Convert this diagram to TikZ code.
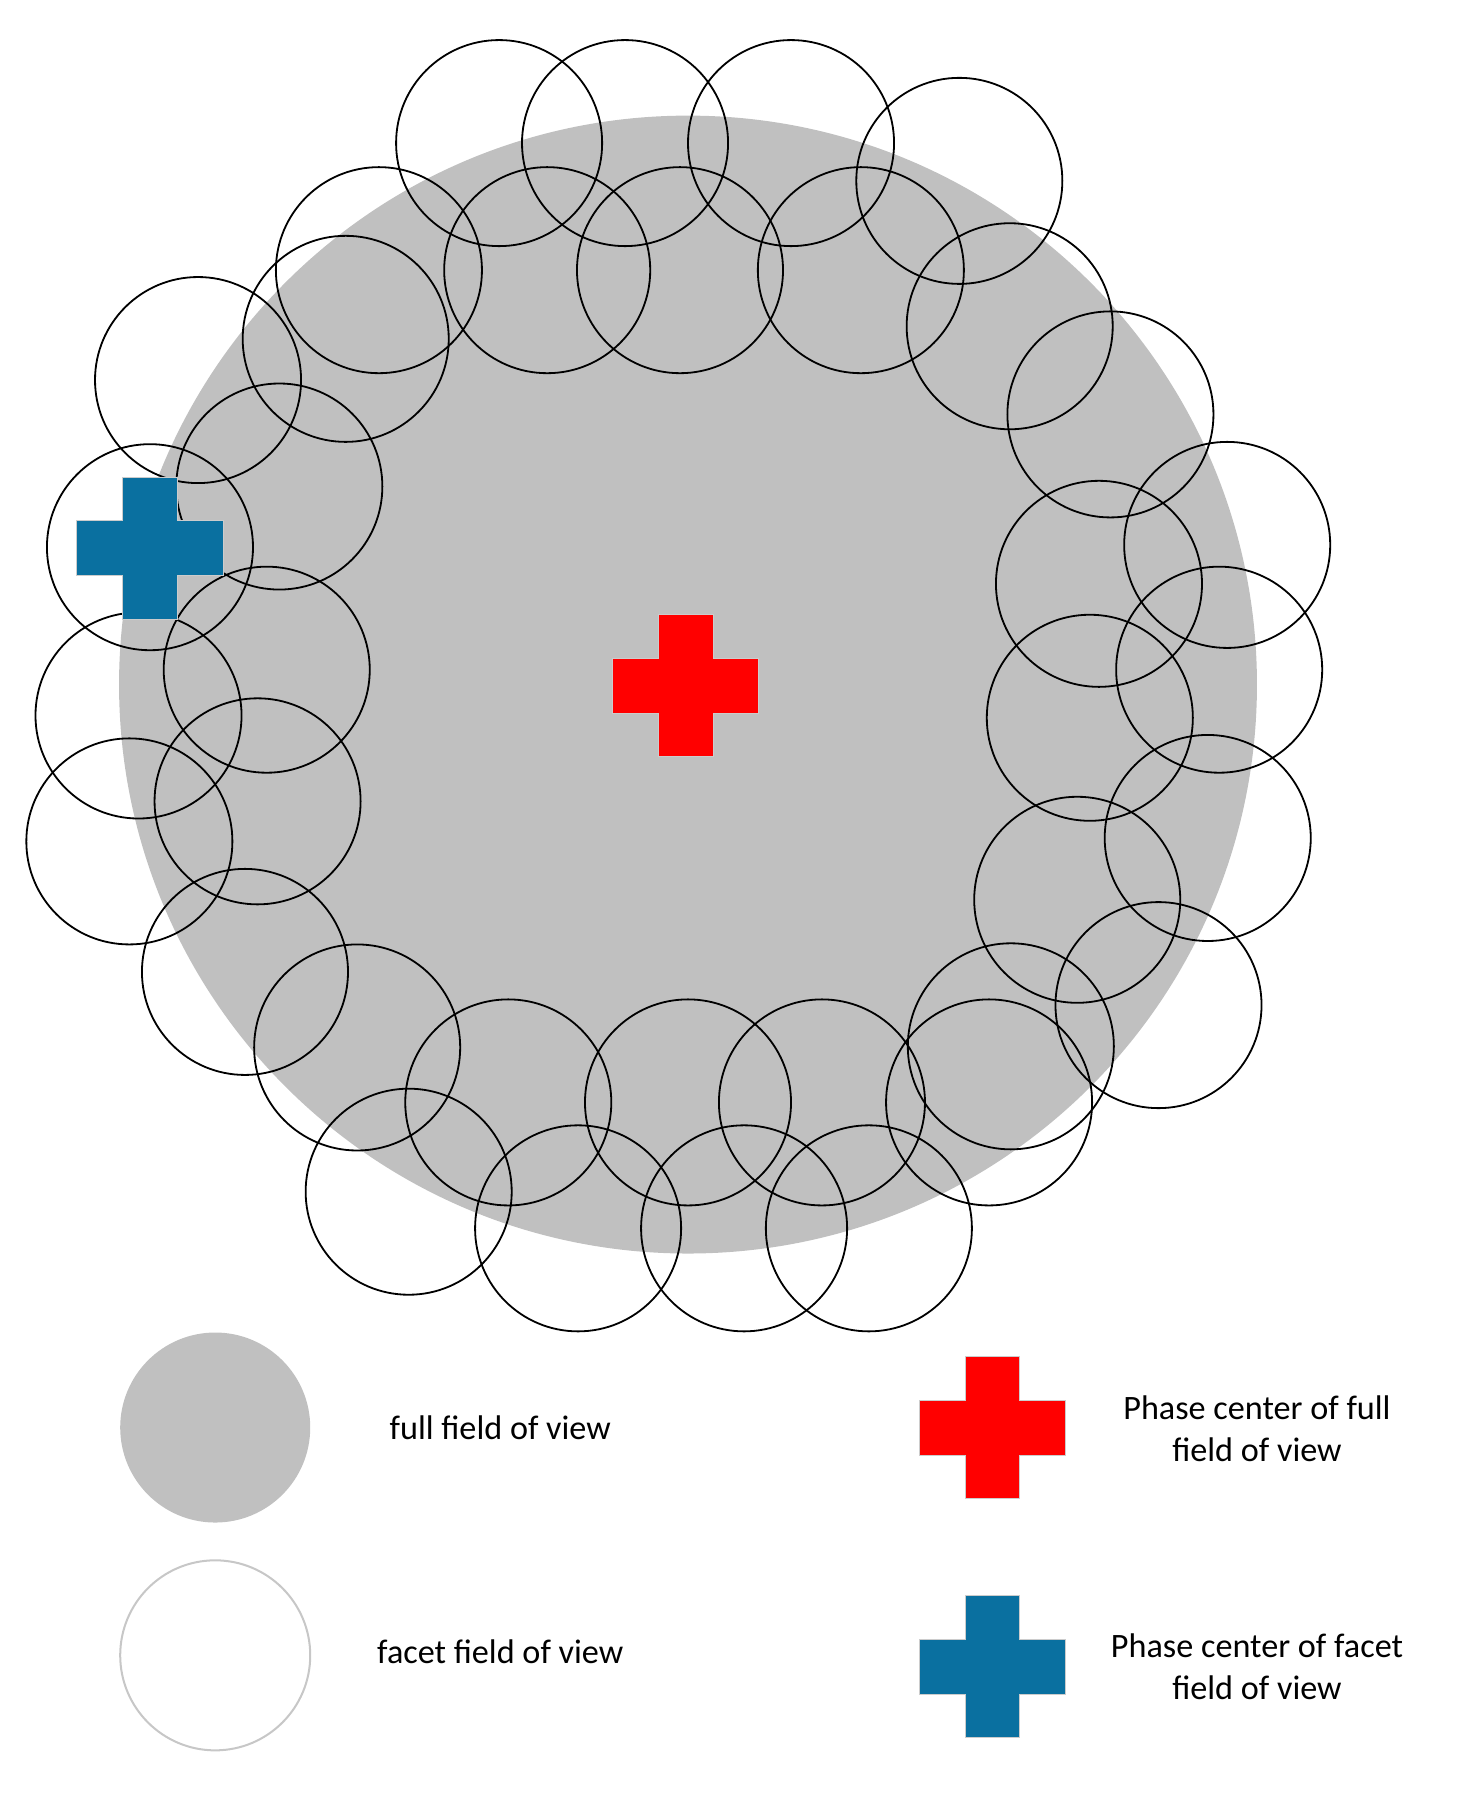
\documentclass[tikz,border=0pt]{standalone}
\usepackage{fontspec}
\setmainfont{Carlito}
\definecolor{fov}{HTML}{C0C0C0}
\definecolor{fblue}{HTML}{0A70A0}
\begin{document}
\begin{tikzpicture}[x=0.02cm,y=-0.02cm,
  facet/.style={draw=black,line width=0.9pt},
  lbl/.style={font=\fontsize{17}{21}\selectfont,align=center},
  pics/cross/.style={code={
    \fill[#1,draw=black!20,line width=0.5pt] (-24,-62)--(24,-62)--(24,-24)--(64,-24)--(64,24)--(24,24)--(24,62)--(-24,62)--(-24,24)--(-64,24)--(-64,-24)--(-24,-24)--cycle;}}]
\useasboundingbox (0,0) rectangle (1280,1575);
\fill[fov] (601,598) circle (497);
\foreach \x/\y in {436/125,546/125,691/125,838/158,478/236,594/236,752/236,331/236,302/296,882/285,173/332,970/362,244/425,1072/476,131/478,960/510,233/585,1065/585,121/625,952/627,225/700,113/735,1055/732,941/786,214/849,1012/878,312/915,883/914,444/963,601/963,718/963,864/963,357/1041,505/1073,650/1073,759/1073}
  \draw[facet] (\x,\y) circle (90);
\pic at (599,599) {cross=red};
\pic at (131,479) {cross=fblue};
% legend
\fill[fov] (188,1247) circle (83);
\draw[black!22,line width=1pt] (188,1446) circle (83);
\node[lbl] (l1) at (437,1247) {full field of view};
\node[lbl] (l2) at (437,1443) {facet field of view};
\pic at (867,1247) {cross=red};
\pic at (867,1456) {cross=fblue};
\node[lbl] (l3) at (1098,1248) {Phase center of full\\field of view};
\node[lbl] (l4) at (1098,1456) {Phase center of facet\\field of view};
\end{tikzpicture}
\end{document}
